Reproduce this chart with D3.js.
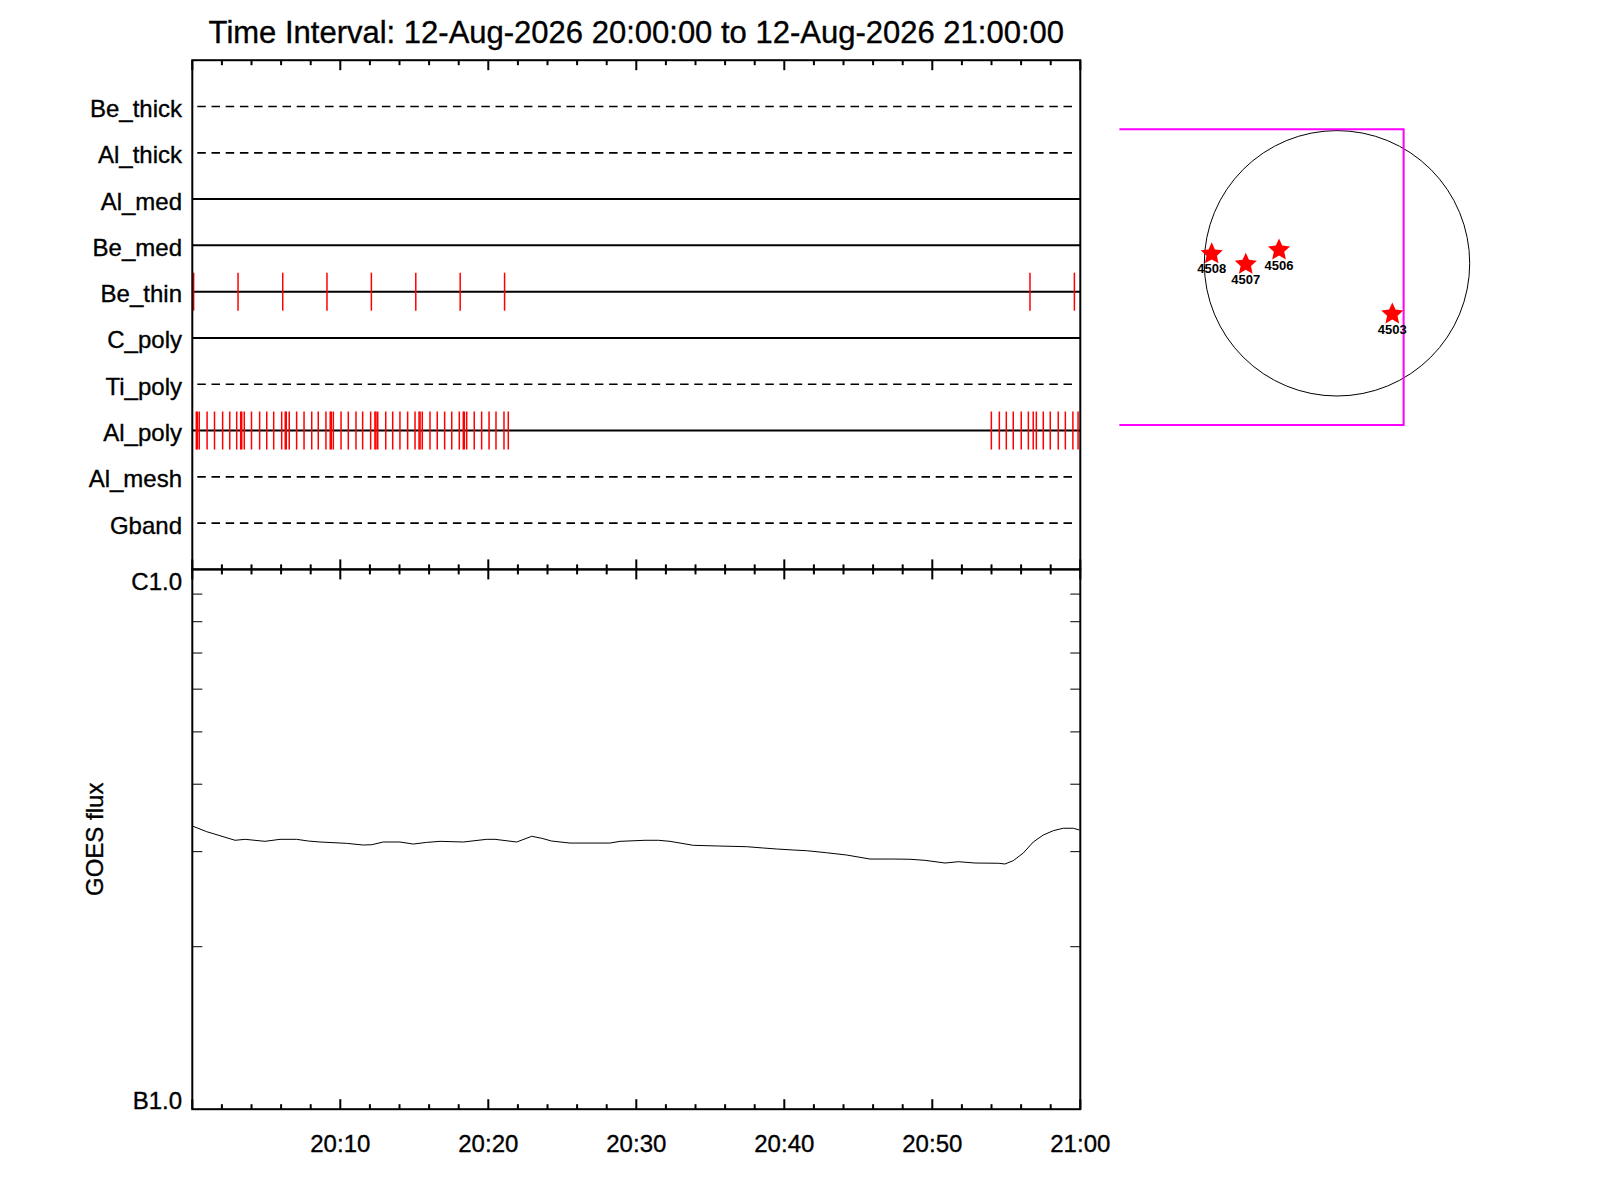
<!DOCTYPE html>
<html>
<head>
<meta charset="utf-8">
<script src="https://cdn.jsdelivr.net/npm/d3@7"></script>
<style>
  html, body { margin: 0; padding: 0; background: #fff; }
  svg text { font-family: "Liberation Sans", Arial, Helvetica, sans-serif; stroke: #000; stroke-width: 0.35px; fill: #000; }
</style>
</head>
<body>
<svg id="chart" width="1600" height="1200"></svg>
<script>
// ---------------- DATA ----------------
const titleText = "Time Interval: 12-Aug-2026 20:00:00 to 12-Aug-2026 21:00:00";
const startISO = "2026-08-12T20:00:00Z";
const endISO = "2026-08-12T21:00:00Z";

const filterNames = ["Be_thick", "Al_thick", "Al_med", "Be_med", "Be_thin",
                     "C_poly", "Ti_poly", "Al_poly", "Al_mesh", "Gband"];
const filterActive = [false, false, true, true, true, true, false, true, false, false];

// observation times (minutes after 20:00)
const beThinTimes = [0.09, 3.09, 6.11, 9.1, 12.1, 15.1, 18.1, 21.1, 56.6, 59.6];
const alPolyTimes = [0.27, 0.34, 0.47, 1.0, 1.5, 2.05, 2.53, 3.0, 3.27, 3.34, 3.51, 4.0,
  4.55, 5.03, 5.5, 6.04, 6.28, 6.35, 6.55, 7.05, 7.55, 8.07, 8.51, 9.03, 9.32, 9.39,
  9.53, 10.05, 10.54, 11.06, 11.51, 12.05, 12.34, 12.41, 12.53, 13.07, 13.54, 14.03,
  14.55, 15.05, 15.32, 15.39, 15.54, 16.06, 16.55, 17.05, 17.53, 18.04, 18.31, 18.38,
  18.54, 19.05, 19.55, 20.05, 20.52, 21.06, 21.35,
  53.99, 54.53, 55.0, 55.47, 56.01, 56.49, 56.82, 57.03, 57.5, 57.97, 58.51, 58.99,
  59.5, 59.85];

// GOES flux (W/m^2) vs minutes after 20:00
const goesTimes = [0, 0.97, 2.89, 3.57, 4.91, 5.93, 7.05, 7.84, 8.63, 10.43, 11.55, 12.12,
  12.9, 14.03, 14.93, 15.84, 16.74, 18.31, 19.89, 20.45, 21.92, 22.93, 23.61, 24.28,
  25.52, 28.22, 28.9, 30.59, 31.49, 32.28, 33.85, 35.54, 37.46, 38.58, 39.49, 40.61,
  41.51, 42.86, 44.22, 45.79, 47.36, 48.49, 49.5, 50.86, 51.76, 52.89, 54.46, 54.91,
  55.47, 56.15, 56.82, 57.5, 58.18, 58.85, 59.53, 59.93];
const goesFlux = [3.347, 3.267, 3.149, 3.162, 3.135, 3.162, 3.162, 3.139, 3.126, 3.108,
  3.086, 3.090, 3.126, 3.126, 3.099, 3.121, 3.135, 3.126, 3.162, 3.162, 3.126, 3.203,
  3.176, 3.139, 3.112, 3.112, 3.135, 3.149, 3.149, 3.135, 3.082, 3.073, 3.064, 3.047,
  3.034, 3.021, 3.012, 2.986, 2.957, 2.907, 2.907, 2.904, 2.891, 2.858, 2.874, 2.858,
  2.855, 2.846, 2.887, 2.983, 3.126, 3.221, 3.281, 3.315, 3.315, 3.291].map(v => v * 1e-6);
const fluxDomain = [1e-6, 1e-5];
const fluxTickValues = [1e-6, 1e-5];
const fluxTickLabels = ["B1.0", "C1.0"];
const fluxMinorTicks = [2e-6, 3e-6, 4e-6, 5e-6, 6e-6, 7e-6, 8e-6, 9e-6];

// Solar context (arcsec)
const solarRadius = 950;
const spotIds = ["4508", "4507", "4506", "4503"];
const spotX = [-897, -653, -415, 396];
const spotY = [67, -7, 95, -363];
const fovX = [-1558, 477];
const fovY = [-1158, 959];

// ---------------- LAYOUT ----------------
const L = 192.3, R = 1080.3, T = 60.2, M = 569.4, B = 1109.2;
const svg = d3.select("#chart");
svg.append("rect").attr("width", 1600).attr("height", 1200).attr("fill", "#fff");

const t0 = new Date(startISO), t1 = new Date(endISO);
const toDate = m => new Date(t0.getTime() + m * 60000);
const x = d3.scaleUtc().domain([t0, t1]).range([L, R]);
const yRow = d3.scaleLinear().domain([0, filterNames.length + 1]).range([T, M]);
const yFlux = d3.scaleLog().domain(fluxDomain).range([B, M]);

// Title
svg.append("text").attr("x", (L + R) / 2).attr("y", 43).attr("text-anchor", "middle")
  .attr("font-size", 31).text(titleText);

// ---- Top panel: filter rows ----
const rows = svg.append("g");
filterNames.forEach((name, i) => {
  const yy = yRow(i + 1);
  rows.append("text").attr("x", 182).attr("y", yy + 10.5).attr("text-anchor", "end")
    .attr("font-size", 24).text(name);
  if (filterActive[i]) {
    rows.append("line").attr("x1", L).attr("x2", R).attr("y1", yy).attr("y2", yy)
      .attr("stroke", "#000").attr("stroke-width", 2);
  } else {
    rows.append("line").attr("x1", L + 5).attr("x2", R - 5).attr("y1", yy).attr("y2", yy)
      .attr("stroke", "#000").attr("stroke-width", 1.7).attr("stroke-dasharray", "8.5,5.7");
  }
});

function drawObs(times, rowName) {
  const yy = yRow(filterNames.indexOf(rowName) + 1);
  rows.selectAll(null).data(times).enter().append("line")
    .attr("x1", d => x(toDate(d))).attr("x2", d => x(toDate(d)))
    .attr("y1", yy - 19).attr("y2", yy + 19)
    .attr("stroke", "#ff0000").attr("stroke-width", 1.5);
}
drawObs(beThinTimes, "Be_thin");
drawObs(alPolyTimes, "Al_poly");

// ---- Frames ----
svg.append("rect").attr("x", L).attr("y", T).attr("width", R - L).attr("height", M - T)
  .attr("fill", "none").attr("stroke", "#000").attr("stroke-width", 2);
svg.append("rect").attr("x", L).attr("y", M).attr("width", R - L).attr("height", B - M)
  .attr("fill", "none").attr("stroke", "#000").attr("stroke-width", 2);

// ---- Time ticks ----
const allTicks = x.ticks(d3.utcMinute.every(2));
const isMajor = d => d.getUTCMinutes() % 10 === 0;
const tickG = svg.append("g").attr("stroke", "#000").attr("stroke-width", 2);
allTicks.forEach(d => {
  const xx = x(d), len = isMajor(d) ? 10 : 5;
  tickG.append("line").attr("x1", xx).attr("x2", xx).attr("y1", T).attr("y2", T + len);
  tickG.append("line").attr("x1", xx).attr("x2", xx).attr("y1", M - len).attr("y2", M + len);
  tickG.append("line").attr("x1", xx).attr("x2", xx).attr("y1", B).attr("y2", B - len);
});

// time labels
const majorLabels = allTicks.filter(d => isMajor(d) && d > t0);
const fmt = d3.utcFormat("%H:%M");
svg.append("g").selectAll("text").data(majorLabels).enter().append("text")
  .attr("x", d => x(d)).attr("y", 1152).attr("text-anchor", "middle")
  .attr("font-size", 24).text(d => fmt(d));

// ---- GOES panel ----
const yTickG = svg.append("g").attr("stroke", "#000").attr("stroke-width", 1);
fluxMinorTicks.forEach(v => {
  const yy = yFlux(v);
  yTickG.append("line").attr("x1", L).attr("x2", L + 10).attr("y1", yy).attr("y2", yy);
  yTickG.append("line").attr("x1", R).attr("x2", R - 10).attr("y1", yy).attr("y2", yy);
});
svg.append("text").attr("x", 182).attr("y", yFlux(fluxTickValues[1]) + 21)
  .attr("text-anchor", "end").attr("font-size", 24).text(fluxTickLabels[1]);
svg.append("text").attr("x", 182).attr("y", yFlux(fluxTickValues[0]))
  .attr("text-anchor", "end").attr("font-size", 24).text(fluxTickLabels[0]);

svg.append("text").attr("transform", `translate(103,${(M + B) / 2}) rotate(-90)`)
  .attr("text-anchor", "middle").attr("font-size", 24).text("GOES flux");

const goesData = goesTimes.map((t, i) => [toDate(t), goesFlux[i]]);
svg.append("path").datum(goesData)
  .attr("d", d3.line().x(d => x(d[0])).y(d => yFlux(d[1])))
  .attr("fill", "none").attr("stroke", "#000").attr("stroke-width", 1);

// ---- Solar context ----
const k = 132.7 / solarRadius;
const cx = 1337, cy = 263.3;
const sx = d3.scaleLinear().domain([-1000, 1000]).range([cx - 1000 * k, cx + 1000 * k]);
const sy = d3.scaleLinear().domain([-1000, 1000]).range([cy + 1000 * k, cy - 1000 * k]);

svg.append("circle").attr("cx", sx(0)).attr("cy", sy(0)).attr("r", sx(solarRadius) - sx(0))
  .attr("fill", "none").attr("stroke", "#000").attr("stroke-width", 1);

svg.append("path")
  .attr("d", `M${sx(fovX[0])},${sy(fovY[1])} L${sx(fovX[1])},${sy(fovY[1])} L${sx(fovX[1])},${sy(fovY[0])} L${sx(fovX[0])},${sy(fovY[0])}`)
  .attr("fill", "none").attr("stroke", "#ff00ff").attr("stroke-width", 2);

// fatter five-pointed star (outer radius from symbol size)
const fatStar = {
  draw(context, size) {
    const r = Math.sqrt(size), ri = r * 0.47;
    for (let i = 0; i < 10; i++) {
      const a = -Math.PI / 2 + i * Math.PI / 5, rr = i % 2 ? ri : r;
      const px = rr * Math.cos(a), py = rr * Math.sin(a);
      if (i === 0) context.moveTo(px, py); else context.lineTo(px, py);
    }
    context.closePath();
  }
};
const star = d3.symbol().type(fatStar).size(135);
spotIds.forEach((id, i) => {
  const px = sx(spotX[i]), py = sy(spotY[i]);
  svg.append("path").attr("d", star()).attr("transform", `translate(${px},${py})`)
    .attr("fill", "#ff0000");
  svg.append("text").attr("x", px).attr("y", py + 19.5).attr("text-anchor", "middle")
    .attr("font-size", 13).attr("font-weight", "bold").style("stroke-width", "0px").text(id);
});
</script>
</body>
</html>
